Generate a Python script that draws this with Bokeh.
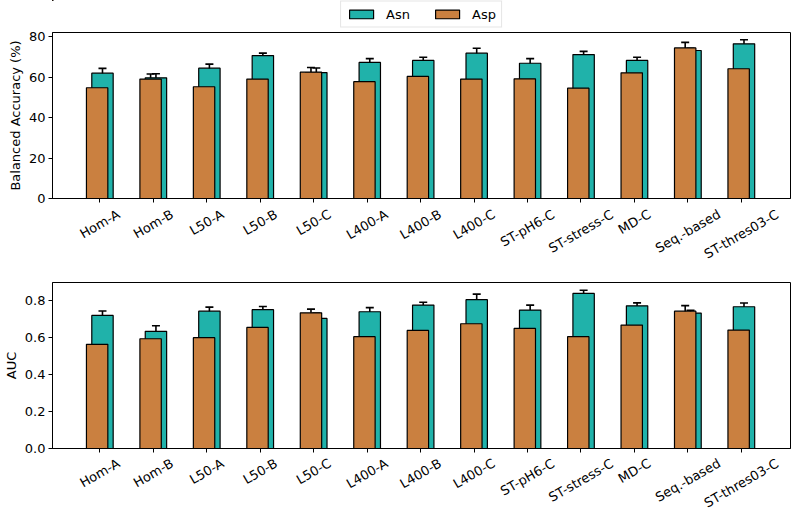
from bokeh.plotting import figure
from bokeh.models import (ColumnDataSource, Range1d, FixedTicker, Whisker, TeeHead,
                          Legend, LegendItem, PrintfTickFormatter)
from bokeh.core.properties import value
from bokeh.transform import dodge
from bokeh.layouts import column
from bokeh.embed import file_html
from bokeh.resources import INLINE
import math

categories = ["Hom-A", "Hom-B", "L50-A", "L50-B", "L50-C", "L400-A", "L400-B",
              "L400-C", "ST-pH6-C", "ST-stress-C", "MD-C", "Seq.-based", "ST-thres03-C"]

ba_asn = [61.9, 59.6, 64.4, 70.6, 62.2, 67.2, 68.2, 71.8, 66.8, 71.1, 68.2, 73.1, 76.4]
ba_asn_err = [2.4, 2.0, 2.0, 1.2, 2.3, 1.9, 1.6, 2.4, 2.3, 1.6, 1.6, 1.1, 2.0]
ba_asp = [54.7, 59.0, 55.2, 59.0, 62.4, 57.7, 60.3, 59.0, 59.1, 54.5, 62.1, 74.4, 64.1]
ba_asp_err = [3.2, 2.5, 1.6, 2.3, 2.3, 1.4, 1.9, 1.9, 3.9, 1.8, 1.6, 2.7, 4.1]

auc_asn = [0.719, 0.633, 0.742, 0.750, 0.703, 0.739, 0.775, 0.804, 0.748, 0.838, 0.771, 0.732, 0.766]
auc_asn_err = [0.024, 0.030, 0.022, 0.017, 0.029, 0.022, 0.015, 0.030, 0.027, 0.017, 0.016, 0.015, 0.020]
auc_asp = [0.563, 0.593, 0.599, 0.654, 0.733, 0.604, 0.638, 0.674, 0.649, 0.604, 0.667, 0.742, 0.640]
auc_asp_err = [0.036, 0.033, 0.023, 0.030, 0.020, 0.027, 0.038, 0.029, 0.046, 0.019, 0.019, 0.030, 0.042]

ba_ticks = [0, 20, 40, 60, 80]
auc_ticks = [0.0, 0.2, 0.4, 0.6, 0.8]

ASN_COLOR = "#20B2AA"
ASP_COLOR = "#CA8040"
FONT = "DejaVu Sans"
FS = 13
ANGLE = math.radians(30)
LEFT = 46
RIGHT = 2
W = 792

# approximate DejaVu Sans advance widths (em), used to centre rotated tick labels
CW = {"H": .752, "o": .612, "m": .974, "-": .361, "A": .684, "B": .686, "L": .557,
      "5": .636, "0": .636, "C": .698, "4": .636, "S": .635, "T": .611, "p": .635,
      "h": .634, "6": .636, "s": .521, "t": .392, "r": .411, "e": .615, "M": .863,
      "D": .770, "q": .635, ".": .318, "b": .635, "a": .613, "d": .635, "3": .636}


def text_len(s):
    return sum(CW.get(c, 0.6) for c in s) * FS


def make_source(asn, asn_err, asp, asp_err):
    return ColumnDataSource(dict(
        idx=list(range(len(categories))),
        asn=asn, asp=asp,
        asn_lo=[v - e for v, e in zip(asn, asn_err)],
        asn_hi=[v + e for v, e in zip(asn, asn_err)],
        asp_lo=[v - e for v, e in zip(asp, asp_err)],
        asp_hi=[v + e for v, e in zip(asp, asp_err)],
    ))


def make_panel(src, xr, ylabel, yticks, ymax, fmt, height, top_border):
    p = figure(width=W, height=height, output_backend="svg", toolbar_location=None,
               x_range=xr, y_range=Range1d(0, ymax),
               min_border_left=LEFT, min_border_right=RIGHT, min_border_top=top_border,
               min_border_bottom=9)
    p.grid.visible = False
    p.outline_line_color = "black"
    p.outline_line_width = 1
    p.background_fill_color = "white"

    p.vbar(x=dodge("idx", 0.05), top="asn", bottom=0, width=0.4, source=src,
           fill_color=ASN_COLOR, line_color="black", line_width=1.2)
    p.vbar(x=dodge("idx", -0.05), top="asp", bottom=0, width=0.4, source=src,
           fill_color=ASP_COLOR, line_color="black", line_width=1.2)

    for off, lo, hi in ((0.05, "asn_lo", "asn_hi"), (-0.05, "asp_lo", "asp_hi")):
        w = Whisker(source=src, base=dodge("idx", off), lower=lo, upper=hi,
                    line_color="black", line_width=1.6,
                    upper_head=TeeHead(size=8, line_color="black", line_width=1.6),
                    lower_head=TeeHead(size=8, line_color="black", line_width=1.6))
        p.add_layout(w)

    xa = p.xaxis[0]
    xa.ticker = FixedTicker(ticks=list(range(len(categories))))
    xa.major_label_overrides = {i: "" for i in range(len(categories))}
    xa.major_label_standoff = 0
    xa.minor_tick_line_color = None
    xa.major_tick_out = 4
    xa.major_tick_in = 0
    xa.axis_line_color = "black"

    ya = p.yaxis[0]
    ya.ticker = FixedTicker(ticks=yticks)
    ya.formatter = PrintfTickFormatter(format=fmt)
    ya.minor_tick_line_color = None
    ya.major_tick_out = 4
    ya.major_tick_in = 0
    ya.major_label_standoff = 3
    ya.major_label_text_font = FONT
    ya.major_label_text_font_size = f"{FS}px"
    ya.major_label_text_color = "black"
    ya.axis_label = ylabel
    ya.axis_label_text_font = FONT
    ya.axis_label_text_font_size = f"{FS}px"
    ya.axis_label_text_font_style = "normal"
    ya.axis_label_text_color = "black"
    ya.axis_label_standoff = 3
    ya.axis_line_color = "black"
    return p


def make_label_strip(xr, height, top_gap):
    offs = []
    for c in categories:
        L = text_len(c)
        bbox_h = L * math.sin(ANGLE) + 1.16 * FS * math.cos(ANGLE)
        offs.append(top_gap + bbox_h / 2)
    lsrc = ColumnDataSource(dict(idx=list(range(len(categories))), name=categories, off=offs))
    s = figure(width=W, height=height, output_backend="svg", toolbar_location=None,
               x_range=xr, y_range=Range1d(0, 1), x_axis_type=None, y_axis_type=None,
               min_border_left=LEFT, min_border_right=RIGHT, min_border_top=0,
               min_border_bottom=0)
    s.outline_line_color = None
    s.grid.visible = False
    s.text(x="idx", y=1, text="name", y_offset="off", angle=ANGLE, source=lsrc,
           text_align="center", text_baseline="middle",
           text_font=value(FONT), text_font_size=f"{FS}px", text_color="black")
    return s


src_ba = make_source(ba_asn, ba_asn_err, ba_asp, ba_asp_err)
src_auc = make_source(auc_asn, auc_asn_err, auc_asp, auc_asp_err)

# legend strip: its bars lie far outside the visible ranges, only the legend shows
leg = figure(width=W, height=28, output_backend="svg", toolbar_location=None,
             x_range=Range1d(100, 101), y_range=Range1d(-1001, -1000),
             x_axis_type=None, y_axis_type=None,
             min_border_left=22, min_border_right=0, min_border_top=0, min_border_bottom=0)
leg.outline_line_color = None
leg.grid.visible = False
g_asn = leg.vbar(x="idx", top="asn", bottom=0, width=0.4, source=src_ba,
                 fill_color=ASN_COLOR, line_color="black", line_width=1.2)
g_asp = leg.vbar(x="idx", top="asp", bottom=0, width=0.4, source=src_ba,
                 fill_color=ASP_COLOR, line_color="black", line_width=1.2)
legend = Legend(items=[LegendItem(label="Asn", renderers=[g_asn]),
                       LegendItem(label="Asp", renderers=[g_asp])],
                orientation="horizontal", location="center",
                label_text_font=FONT, label_text_font_size=f"{FS}px",
                label_text_color="black",
                glyph_width=30, glyph_height=11, label_height=14,
                label_standoff=10, spacing=22, padding=5, margin=0,
                border_line_color="#cccccc", border_line_width=1,
                background_fill_color="white", background_fill_alpha=1.0)
leg.add_layout(legend)

xr_top = Range1d(-0.885, 12.92)
xr_bot = Range1d(-0.885, 12.92)

top = make_panel(src_ba, xr_top, "Balanced Accuracy (%)", ba_ticks, 82.0, "%d", 179, 4)
top_labels = make_label_strip(xr_top, 55, -1)
bottom = make_panel(src_auc, xr_bot, "AUC", auc_ticks, 0.897, "%.1f", 195, 20)
bottom_labels = make_label_strip(xr_bot, 52, -2)

layout = column(leg, top, top_labels, bottom, bottom_labels, spacing=0)
open("out.html", "w").write(file_html(layout, INLINE))
